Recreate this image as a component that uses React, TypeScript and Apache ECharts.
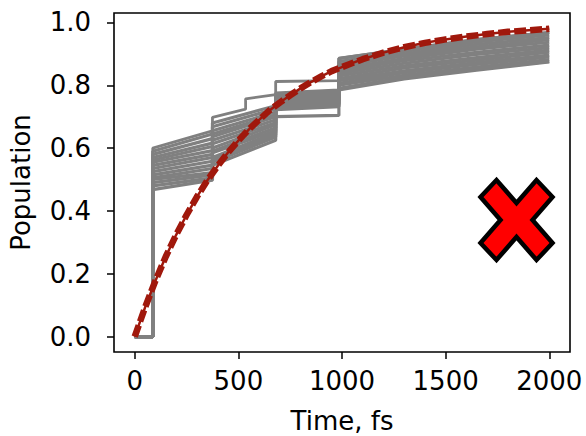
import React, { useEffect, useRef } from "react";
import * as echarts from "echarts";

// ---- data ----
const X_TICKS = [0, 500, 1000, 1500, 2000];
const Y_TICKS = [0.0, 0.2, 0.4, 0.6, 0.8, 1.0];

// shared time knots of the trajectories (fs); repeated times are jumps
const KNOT_T = [0, 87, 87, 375, 375, 680, 680, 985, 985, 1300, 1650, 2000];

const TRAJ_A = [0, 0, 0.48, 0.505, 0.555, 0.635, 0.722, 0.732, 0.79, 0.825, 0.852, 0.876];
const TRAJ_B = [0, 0, 0.49, 0.515, 0.562, 0.642, 0.726, 0.736, 0.8, 0.832, 0.858, 0.882];
const TRAJ_C = [0, 0, 0.5, 0.522, 0.57, 0.65, 0.73, 0.74, 0.806, 0.84, 0.866, 0.89];
const TRAJ_D = [0, 0, 0.505, 0.535, 0.585, 0.656, 0.735, 0.745, 0.815, 0.846, 0.872, 0.896];
const TRAJ_E = [0, 0, 0.515, 0.546, 0.59, 0.665, 0.74, 0.75, 0.821, 0.855, 0.88, 0.905];
const TRAJ_F = [0, 0, 0.525, 0.558, 0.6, 0.674, 0.745, 0.755, 0.83, 0.862, 0.888, 0.912];
const TRAJ_G = [0, 0, 0.535, 0.57, 0.614, 0.681, 0.748, 0.758, 0.838, 0.87, 0.898, 0.92];
const TRAJ_H = [0, 0, 0.545, 0.58, 0.625, 0.69, 0.752, 0.762, 0.845, 0.878, 0.905, 0.928];
const TRAJ_I = [0, 0, 0.555, 0.592, 0.636, 0.7, 0.757, 0.767, 0.852, 0.885, 0.915, 0.937];
const TRAJ_J = [0, 0, 0.562, 0.605, 0.645, 0.706, 0.762, 0.772, 0.86, 0.893, 0.922, 0.945];
const TRAJ_K = [0, 0, 0.57, 0.616, 0.655, 0.715, 0.766, 0.776, 0.867, 0.9, 0.93, 0.952];
const TRAJ_L = [0, 0, 0.58, 0.63, 0.668, 0.725, 0.77, 0.78, 0.875, 0.908, 0.938, 0.96];
const TRAJ_M = [0, 0, 0.59, 0.645, 0.68, 0.735, 0.775, 0.785, 0.885, 0.915, 0.945, 0.968];
const TRAJ_LOW = [0, 0, 0.468, 0.498, 0.545, 0.625, 0.7, 0.704, 0.785, 0.82, 0.848, 0.874];

// the upper outlier has an extra jump at 535 fs
const TOP_T = [0, 87, 87, 375, 375, 535, 535, 680, 680, 985, 985, 1300, 1650, 2000];
const TOP_Y = [0, 0, 0.6, 0.655, 0.698, 0.724, 0.757, 0.77, 0.812, 0.815, 0.886, 0.915, 0.946, 0.968];

// exponential fit curve
const FIT_T = [0, 50, 100, 150, 200, 250, 300, 350, 400, 450, 500, 550, 600, 650, 700, 750, 800, 850, 900, 950, 1000,
  1100, 1200, 1300, 1400, 1500, 1600, 1700, 1800, 1900, 2000];
const FIT_Y = [0, 0.093, 0.178, 0.255, 0.324, 0.387, 0.445, 0.497, 0.543, 0.586, 0.624, 0.659, 0.69, 0.72, 0.745,
  0.768, 0.79, 0.81, 0.828, 0.845, 0.858, 0.883, 0.904, 0.921, 0.935, 0.946, 0.955, 0.963, 0.97, 0.975, 0.98];

const TRAJS = [TRAJ_LOW, TRAJ_A, TRAJ_B, TRAJ_C, TRAJ_D, TRAJ_E, TRAJ_F, TRAJ_G, TRAJ_H, TRAJ_I, TRAJ_J, TRAJ_K, TRAJ_L, TRAJ_M];

const FONT = "DejaVu Sans";
const GREY = "#808080";
const RED = "#a0180c";

export default function App() {
  const ref = useRef<HTMLDivElement>(null);
  useEffect(() => {
    if (!ref.current) return;
    const chart = echarts.init(ref.current, undefined, { renderer: "svg" });

    const pair = (ts: number[], ys: number[]) => ts.map((t, i) => [t, ys[i]]);

    const greySeries: any[] = TRAJS.map((ys) => ({
      type: "line",
      data: pair(KNOT_T, ys),
      symbol: "none",
      lineStyle: { color: GREY, width: 3.2 },
      z: 2,
      silent: true,
    }));
    greySeries.push({
      type: "line",
      data: pair(TOP_T, TOP_Y),
      symbol: "none",
      lineStyle: { color: GREY, width: 2.8 },
      z: 2,
      silent: true,
    });

    const fitData = pair(FIT_T, FIT_Y);

    const h = 40, w = 36, ax = 16, ay = 17;
    const xPts = [
      [-w, -h + ay], [-w + ax, -h], [0, -ay], [w - ax, -h], [w, -h + ay], [ax, 0],
      [w, h - ay], [w - ax, h], [0, ay], [-w + ax, h], [-w, h - ay], [-ax, 0],
    ];

    chart.setOption({
      animation: false,
      grid: {
        left: 114, top: 13, right: 16, bottom: 84,
        outerBoundsMode: "none",
        containLabel: false,
        show: true, borderColor: "#000", borderWidth: 1.6, backgroundColor: "#fff",
      },
      xAxis: {
        type: "value",
        min: -100, max: 2100,
        name: "Time, fs",
        nameLocation: "middle",
        nameGap: 56,
        nameTextStyle: { fontFamily: FONT, fontSize: 26, color: "#000" },
        axisLine: { show: false, onZero: false },
        splitLine: { show: false },
        axisTick: { show: true, inside: false, length: 7, customValues: X_TICKS, lineStyle: { color: "#000", width: 1.5 } },
        axisLabel: {
          customValues: X_TICKS, margin: 16, fontFamily: FONT, fontSize: 26, color: "#000",
          formatter: (v: number) => String(v),
        },
      },
      yAxis: {
        type: "value",
        min: -0.049, max: 1.03,
        name: "Population",
        nameLocation: "middle",
        nameGap: 80,
        nameTextStyle: { fontFamily: FONT, fontSize: 26, color: "#000" },
        axisLine: { show: false, onZero: false },
        splitLine: { show: false },
        axisTick: { show: true, inside: false, length: 7, customValues: Y_TICKS, lineStyle: { color: "#000", width: 1.5 } },
        axisLabel: {
          customValues: Y_TICKS, margin: 23, fontFamily: FONT, fontSize: 26, color: "#000",
          padding: [4, 0, 0, 0],
          formatter: (v: number) => v.toFixed(1),
        },
      },
      series: [
        ...greySeries,
        {
          type: "line",
          data: fitData,
          symbol: "none",
          lineStyle: { color: RED, width: 2.5 },
          z: 5,
          silent: true,
        },
        {
          type: "line",
          data: fitData,
          symbol: "none",
          lineStyle: { color: RED, width: 6.5, type: [12, 4] },
          z: 6,
          silent: true,
        },
      ],
      graphic: [
        {
          type: "polygon",
          x: 516.5,
          y: 220,
          shape: { points: xPts },
          style: { fill: "#ff0000", stroke: "#000", lineWidth: 4.5, lineJoin: "miter" },
          z: 100,
        },
      ],
    });
    return () => chart.dispose();
  }, []);
  return (
    <div
      ref={ref}
      style={{ position: "fixed", left: 0, top: 0, width: 586, height: 436, background: "#fff" }}
    />
  );
}
